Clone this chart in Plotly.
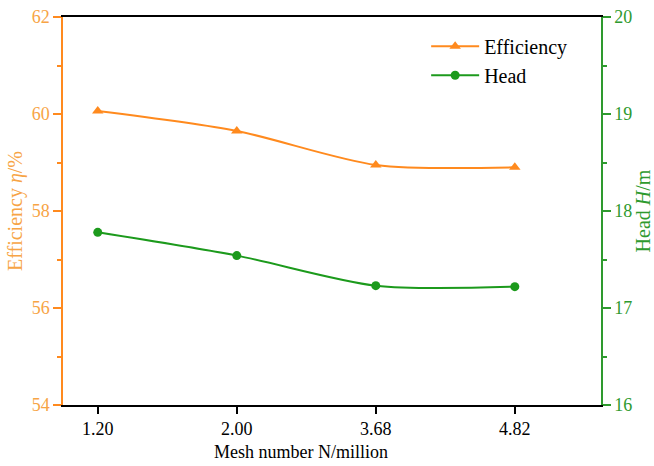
import plotly.graph_objects as go

# Mesh independence data
mesh_labels = ["1.20", "2.00", "3.68", "4.82"]
efficiency = [60.06, 59.65, 58.95, 58.90]
head = [17.78, 17.54, 17.23, 17.22]

ORANGE = "#FF8A1E"
ORANGE_TXT = "#F7A445"
GREEN = "#1C9A1C"
GREEN_TXT = "#2E9A2E"
FONT = "Liberation Serif"

fig = go.Figure()
fig.add_trace(go.Scatter(
    x=mesh_labels, y=efficiency, name="Efficiency",
    mode="lines+markers",
    line=dict(color=ORANGE, width=2, shape="spline", smoothing=0.8),
    marker=dict(symbol="triangle-up", size=10, color=ORANGE),
    yaxis="y",
))
fig.add_trace(go.Scatter(
    x=mesh_labels, y=head, name="Head",
    mode="lines+markers",
    line=dict(color=GREEN, width=2, shape="spline", smoothing=0.8),
    marker=dict(symbol="circle", size=9, color=GREEN),
    yaxis="y2",
))

fig.update_layout(
    width=654, height=466,
    margin=dict(l=63, r=53, t=17, b=61),
    paper_bgcolor="white", plot_bgcolor="white",
    font=dict(family=FONT, size=18, color="black"),
    showlegend=True,
    legend=dict(
        x=0.675, y=0.975, xanchor="left", yanchor="top",
        bgcolor="rgba(0,0,0,0)", font=dict(size=20, family=FONT),
        itemwidth=48, tracegroupgap=0,
    ),
    xaxis=dict(
        type="category", range=[-0.25, 3.62], automargin=False,
        showline=True, linecolor="black", linewidth=1.5, mirror=True,
        ticks="outside", ticklen=7, tickcolor="black", tickwidth=1.5,
        showgrid=False, zeroline=False,
        tickfont=dict(size=18, family=FONT, color="black"),
    ),
    yaxis=dict(
        range=[54, 62], dtick=2, tick0=54, automargin=False,
        showline=True, linecolor=ORANGE, linewidth=1.5,
        ticks="outside", ticklen=8, tickcolor=ORANGE, tickwidth=1.5,
        minor=dict(ticks="outside", dtick=1, tick0=54, ticklen=4, tickcolor=ORANGE, tickwidth=1.5),
        showgrid=False, zeroline=False,
        tickfont=dict(size=18, family=FONT, color=ORANGE_TXT),
        title=dict(text="Efficiency <i>η</i>/%", font=dict(size=20, family=FONT, color=ORANGE_TXT), standoff=4),
    ),
    yaxis2=dict(
        range=[16, 20], dtick=1, tick0=16, automargin=False,
        overlaying="y", side="right", anchor="x",
        showline=True, linecolor=GREEN_TXT, linewidth=1.5,
        ticks="outside", ticklen=8, tickcolor=GREEN_TXT, tickwidth=1.5,
        minor=dict(ticks="outside", dtick=0.5, tick0=16, ticklen=4, tickcolor=GREEN_TXT, tickwidth=1.5),
        showgrid=False, zeroline=False,
        tickfont=dict(size=18, family=FONT, color=GREEN_TXT),
        title=dict(text="Head <i>H</i>/m", font=dict(size=20, family=FONT, color=GREEN_TXT), standoff=6),
    ),
    annotations=[dict(
        text="Mesh number N/million", xref="paper", yref="paper",
        x=0.4424, y=-0.121, xanchor="center", yanchor="middle",
        showarrow=False, font=dict(size=18, family=FONT, color="black"),
    )],
)

fig.write_html("out.html")
